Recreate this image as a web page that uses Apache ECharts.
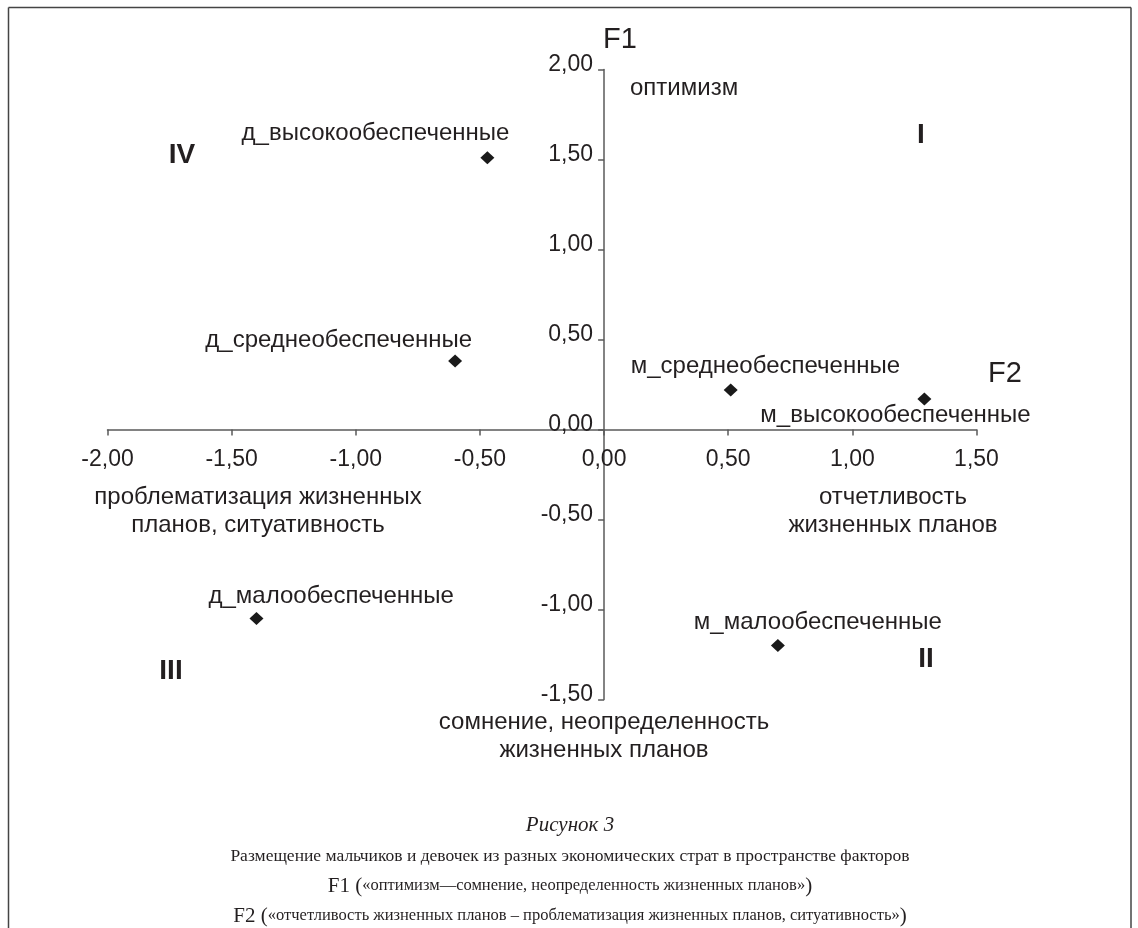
<!DOCTYPE html>
<html>
<head>
<meta charset="utf-8">
<script src="https://cdn.jsdelivr.net/npm/echarts@6/dist/echarts.min.js"></script>
<style>
  html, body { margin: 0; padding: 0; background: #ffffff; }
  #chart { width: 1138px; height: 928px; }
</style>
</head>
<body>
<div id="chart"></div>
<script>
// ---- data ----
const categories = ['д_высокообеспеченные', 'д_среднеобеспеченные', 'м_среднеобеспеченные',
                    'м_высокообеспеченные', 'д_малообеспеченные', 'м_малообеспеченные'];
const f2Values = [-0.47, -0.60, 0.51, 1.29, -1.40, 0.70];   // horizontal axis (F2)
const f1Values = [1.51, 0.38, 0.22, 0.17, -1.05, -1.20];    // vertical axis (F1)
const xTickRange = { min: -2.0, max: 1.5, step: 0.5 };
const yTickRange = { min: -1.5, max: 2.0, step: 0.5 };

// ---- label layout (kept separate from data) ----
const labelLayout = [
  { align: 'right', offset: [22, -24] },
  { align: 'right', offset: [17, -21] },
  { align: 'left',  offset: [-100, -24] },
  { align: 'left',  offset: [-164, 16] },
  { align: 'left',  offset: [-48, -22] },
  { align: 'left',  offset: [-84, -23] }
];

const INK = '#231f20';
const AXIS = '#5a5a5a';
const SANS = '"Liberation Sans", Arial, sans-serif';
const SERIF = '"Liberation Serif", "Times New Roman", serif';
const fmt = v => v.toFixed(2).replace('.', ',');

const GRID = { left: 107.5, top: 69.5, width: 869, height: 630 };

const points = categories.map((name, i) => ({
  name: name,
  value: [f2Values[i], f1Values[i]],
  label: {
    show: true,
    position: 'inside',
    align: labelLayout[i].align,
    verticalAlign: 'middle',
    offset: labelLayout[i].offset,
    formatter: '{b}',
    color: INK,
    fontFamily: SANS,
    fontSize: 24
  }
}));

function txt(x, y, text, font, align, extra) {
  return {
    type: 'text', x: x, y: y, silent: true,
    style: Object.assign({
      text: text, fill: INK, font: font,
      align: align || 'center', textAlign: align || 'center',
      verticalAlign: 'middle', textVerticalAlign: 'middle'
    }, extra || {})
  };
}
function line(x1, y1, x2, y2) {
  return { type: 'line', silent: true, shape: { x1: x1, y1: y1, x2: x2, y2: y2 },
           style: { stroke: '#444', lineWidth: 1.5 } };
}

const chart = echarts.init(document.getElementById('chart'), null, { renderer: 'canvas' });
chart.setOption({
  animation: false,
  backgroundColor: '#ffffff',
  grid: Object.assign({ containLabel: false }, GRID),
  xAxis: {
    type: 'value', min: xTickRange.min, max: xTickRange.max, interval: xTickRange.step,
    position: 'bottom',
    axisLine: { show: true, onZero: false, lineStyle: { color: AXIS, width: 1.5 } },
    axisTick: { show: true, length: 6, lineStyle: { color: AXIS, width: 1.5 } },
    axisLabel: { margin: 19, fontSize: 23, color: INK, fontFamily: SANS, formatter: fmt },
    splitLine: { show: false }
  },
  yAxis: {
    type: 'value', min: yTickRange.min, max: yTickRange.max, interval: yTickRange.step,
    position: 'left',
    axisLine: { show: true, onZero: false, lineStyle: { color: AXIS, width: 1.5 } },
    axisTick: { show: true, length: 6, lineStyle: { color: AXIS, width: 1.5 } },
    axisLabel: { margin: 11, fontSize: 23, color: INK, fontFamily: SANS, formatter: fmt,
                 verticalAlign: 'bottom', lineHeight: 9 },
    splitLine: { show: false }
  },
  series: [{
    type: 'scatter',
    symbol: 'diamond',
    symbolSize: [14, 13],
    itemStyle: { color: '#1a1a1a', opacity: 1 },
    emphasis: { disabled: true },
    data: points
  }],
  graphic: [
    line(8.5, 7.5, 1131, 7.5),
    line(8.5, 7.5, 8.5, 928),
    line(1131, 7.5, 1131, 928),
    txt(620, 40, 'F1', '29px ' + SANS),
    txt(1005, 374, 'F2', '29px ' + SANS),
    txt(630, 88, 'оптимизм', '24px ' + SANS, 'left'),
    txt(182, 155, 'IV', 'bold 28px ' + SANS),
    txt(921, 135, 'I', 'bold 28px ' + SANS),
    txt(171, 671, 'III', 'bold 28px ' + SANS),
    txt(926, 659, 'II', 'bold 28px ' + SANS),
    txt(258, 511, 'проблематизация жизненных\nпланов, ситуативность', '24px ' + SANS, 'center', { lineHeight: 28 }),
    txt(893, 511, 'отчетливость\nжизненных планов', '24px ' + SANS, 'center', { lineHeight: 28 }),
    txt(604, 736, 'сомнение, неопределенность\nжизненных планов', '24px ' + SANS, 'center', { lineHeight: 28 }),
    txt(570, 825, 'Рисунок 3', 'italic 21px ' + SERIF),
    txt(570, 856, 'Размещение мальчиков и девочек из разных экономических страт в пространстве факторов', '17.5px ' + SERIF),
    {
      type: 'text', x: 570, y: 886, silent: true,
      style: {
        text: '{b|F1 (}{s|«оптимизм—сомнение, неопределенность жизненных планов»}{b|)}',
        align: 'center', textAlign: 'center', verticalAlign: 'middle', textVerticalAlign: 'middle',
        fill: INK,
        rich: {
          b: { fontFamily: SERIF, fontSize: 21, fill: INK, color: INK },
          s: { fontFamily: SERIF, fontSize: 16.5, fill: INK, color: INK }
        }
      }
    },
    {
      type: 'text', x: 570, y: 916, silent: true,
      style: {
        text: '{b|F2 (}{s|«отчетливость жизненных планов – проблематизация жизненных планов, ситуативность»}{b|)}',
        align: 'center', textAlign: 'center', verticalAlign: 'middle', textVerticalAlign: 'middle',
        fill: INK,
        rich: {
          b: { fontFamily: SERIF, fontSize: 21, fill: INK, color: INK },
          s: { fontFamily: SERIF, fontSize: 16.5, fill: INK, color: INK }
        }
      }
    }
  ]
});

// Place both axes through the origin, using the library's own scales.
const origin = chart.convertToPixel({ gridIndex: 0 }, [0, 0]);
chart.setOption({
  xAxis: { offset: origin[1] - (GRID.top + GRID.height) },
  yAxis: { offset: GRID.left - origin[0] }
});
</script>
</body>
</html>
